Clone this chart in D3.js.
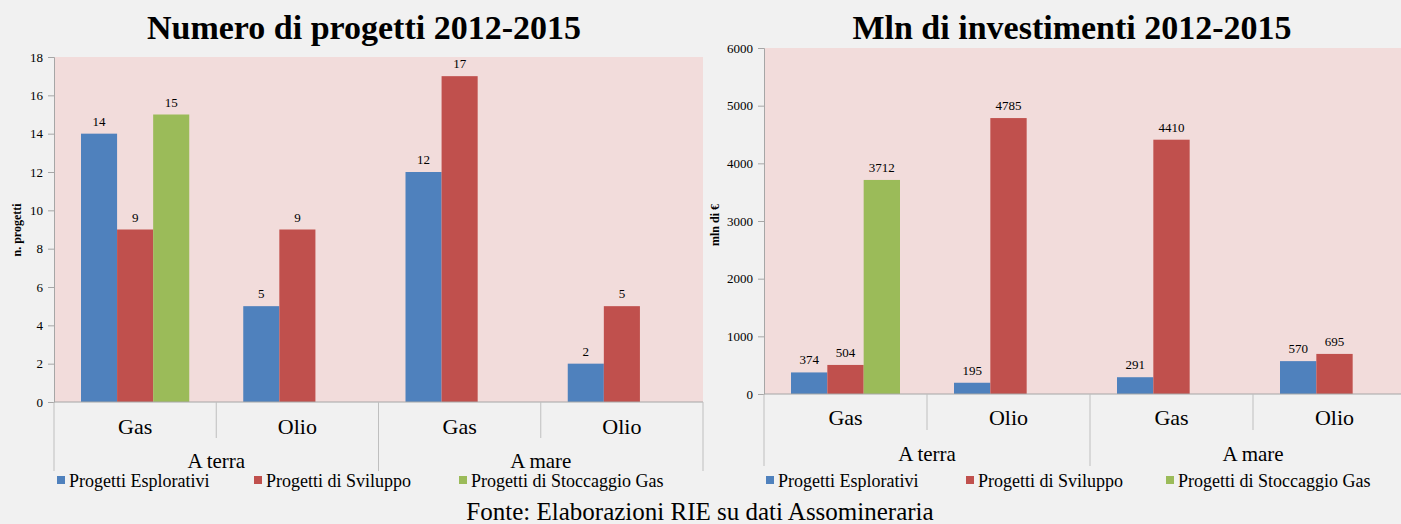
<!DOCTYPE html>
<html>
<head>
<meta charset="utf-8">
<script src="https://cdn.jsdelivr.net/npm/d3@7"></script>
<style>
  html, body { margin: 0; padding: 0; background: #f1f1f1; }
  svg { display: block; }
  svg text { font-family: 'Liberation Serif', 'Times New Roman', Times, serif; }
</style>
</head>
<body>
<svg id="chart" width="1401" height="524"></svg>
<script>
// Categories: type (Gas / Olio) nested in location (A terra / A mare)
const categories = ["Gas", "Olio", "Gas", "Olio"];
const groups = ["A terra", "A mare"];
const seriesNames = ["Progetti Esplorativi", "Progetti di Sviluppo", "Progetti di Stoccaggio Gas"];
const seriesColors = ["#4f81bd", "#c0504d", "#9bbb59"];

// Number of projects per category, one array per series
const progettiEsplorativi = [14, 5, 12, 2];
const progettiSviluppo = [9, 9, 17, 5];
const progettiStoccaggio = [15, null, null, null];
const countTicks = [0, 2, 4, 6, 8, 10, 12, 14, 16, 18];

// Investments (mln €) per category, one array per series
const mlnEsplorativi = [374, 195, 291, 570];
const mlnSviluppo = [504, 4785, 4410, 695];
const mlnStoccaggio = [3712, null, null, null];
const mlnTicks = [0, 1000, 2000, 3000, 4000, 5000, 6000];

const FONT = "'Liberation Serif', 'Times New Roman', Times, serif";
const svg = d3.select("#chart").attr("font-family", FONT);

function drawChart(opt) {
  const g = svg.append("g");
  const series = opt.series;

  // plot background
  g.append("rect")
    .attr("x", opt.x0).attr("y", opt.y0)
    .attr("width", opt.x1 - opt.x0).attr("height", opt.y1 - opt.y0)
    .attr("fill", "#f2dcdb");

  const y = d3.scaleLinear().domain([0, opt.ymax]).range([opt.y1, opt.y0]);
  const x = d3.scaleBand().domain(d3.range(categories.length)).range([opt.x0, opt.x0 + opt.catW * categories.length]).padding(0);
  const inner = d3.scaleBand().domain(d3.range(series.length)).range([opt.barPad, opt.catW - opt.barPad]).padding(0);

  // y axis
  const yAxis = d3.axisLeft(y).tickValues(opt.ticks).tickSize(6).tickPadding(5).tickFormat(d3.format("d"));
  const ya = g.append("g").attr("transform", `translate(${opt.x0},0)`).call(yAxis)
    .attr("font-family", FONT).attr("font-size", 13);
  ya.select(".domain").attr("stroke", "#a6a6a6");
  ya.selectAll(".tick line").attr("stroke", "#a6a6a6");
  ya.selectAll(".tick text").attr("fill", "#000");

  // bars
  series.forEach((s, si) => {
    const pts = s.values.map((v, i) => ({ v, i })).filter(d => d.v != null);
    g.selectAll(null).data(pts).enter().append("rect")
      .attr("x", d => x(d.i) + inner(si))
      .attr("width", inner.bandwidth())
      .attr("y", d => y(d.v))
      .attr("height", d => y(0) - y(d.v))
      .attr("fill", seriesColors[si]);
    g.selectAll(null).data(pts).enter().append("text")
      .attr("x", d => x(d.i) + inner(si) + inner.bandwidth() / 2)
      .attr("y", d => y(d.v) - 8)
      .attr("text-anchor", "middle")
      .attr("font-size", 13)
      .text(d => d.v);
  });

  // category axis line
  g.append("line")
    .attr("x1", opt.x0).attr("x2", opt.x1).attr("y1", opt.y1).attr("y2", opt.y1)
    .attr("stroke", "#a6a6a6");

  // separators between categories (short) and between groups (long)
  d3.range(categories.length + 1).forEach(i => {
    const xx = opt.x0 + i * opt.catW;
    const long = i % 2 === 0;
    g.append("line")
      .attr("x1", xx).attr("x2", xx)
      .attr("y1", opt.y1).attr("y2", long ? opt.longY : opt.shortY)
      .attr("stroke", "#bfbfbf");
  });

  // category labels
  g.selectAll(null).data(categories).enter().append("text")
    .attr("x", (d, i) => x(i) + opt.catW / 2)
    .attr("y", opt.catY)
    .attr("text-anchor", "middle")
    .attr("font-size", 22)
    .text(d => d);

  // group labels
  g.selectAll(null).data(groups).enter().append("text")
    .attr("x", (d, i) => opt.x0 + opt.catW * (2 * i + 1))
    .attr("y", opt.groupY)
    .attr("text-anchor", "middle")
    .attr("font-size", 21)
    .text(d => d);

  // y axis title
  g.append("text")
    .attr("transform", `translate(${opt.yTitleX},${opt.yTitleY}) rotate(-90)`)
    .attr("text-anchor", "middle")
    .attr("font-size", 12).attr("font-weight", "bold")
    .text(opt.yTitle);

  // chart title
  g.append("text")
    .attr("x", opt.titleX).attr("y", 39)
    .attr("text-anchor", "middle")
    .attr("font-size", 34).attr("font-weight", "bold")
    .text(opt.title);

  // legend
  const lg = g.selectAll(null).data(seriesNames).enter().append("g")
    .attr("transform", (d, i) => `translate(${opt.legendX[i]},${opt.legendY})`);
  lg.append("rect").attr("x", 0).attr("y", -11).attr("width", 8).attr("height", 8)
    .attr("fill", (d, i) => seriesColors[i]);
  lg.append("text").attr("x", opt.legendGap).attr("y", 0).attr("font-size", 18).text(d => d);
}

drawChart({
  title: "Numero di progetti 2012-2015", titleX: 364,
  series: [
    { values: progettiEsplorativi },
    { values: progettiSviluppo },
    { values: progettiStoccaggio }
  ],
  x0: 54, x1: 703, y0: 57, y1: 402, catW: 162.25, barPad: 27,
  ymax: 18, ticks: countTicks,
  shortY: 438, longY: 471, catY: 434, groupY: 468,
  yTitle: "n. progetti", yTitleX: 21, yTitleY: 230,
  legendX: [57, 254, 459], legendGap: 12, legendY: 487
});

drawChart({
  title: "Mln di investimenti 2012-2015", titleX: 1072,
  series: [
    { values: mlnEsplorativi },
    { values: mlnSviluppo },
    { values: mlnStoccaggio }
  ],
  x0: 764, x1: 1401, y0: 48, y1: 394, catW: 163, barPad: 27,
  ymax: 6000, ticks: mlnTicks,
  shortY: 430, longY: 466, catY: 425, groupY: 461,
  yTitle: "mln di €", yTitleX: 719, yTitleY: 225,
  legendX: [766, 966, 1166], legendGap: 12, legendY: 487
});

// source note
svg.append("text")
  .attr("x", 700).attr("y", 520)
  .attr("text-anchor", "middle")
  .attr("font-size", 25)
  .text("Fonte: Elaborazioni RIE su dati Assomineraria");
</script>
</body>
</html>
